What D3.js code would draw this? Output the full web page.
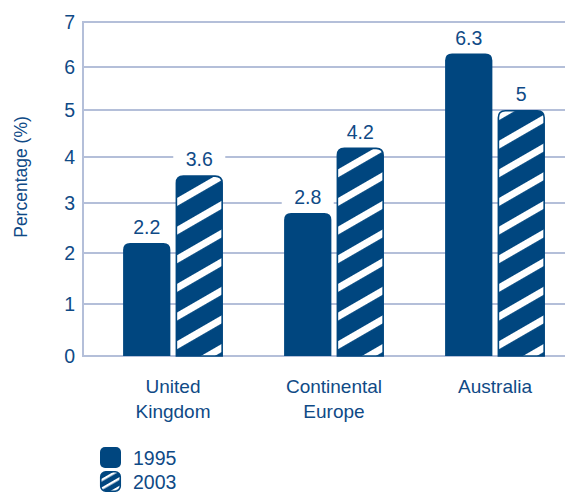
<!DOCTYPE html>
<html>
<head>
<meta charset="utf-8">
<script src="https://cdn.jsdelivr.net/npm/d3@7"></script>
<style>
  html, body { margin: 0; padding: 0; background: #fff; }
  svg { display: block; }
  text { font-family: "Liberation Sans", Arial, Helvetica, sans-serif; fill: #0f4a86; }
</style>
</head>
<body>
<svg id="chart" width="565" height="493"></svg>
<script>
// ---- data ----
const categories = [["United", "Kingdom"], ["Continental", "Europe"], ["Australia"]];
const categoryKeys = ["United Kingdom", "Continental Europe", "Australia"];
const seriesNames = ["1995", "2003"];
const values1995 = [2.2, 2.8, 6.3];
const values2003 = [3.6, 4.2, 5];
const valueLabels1995 = ["2.2", "2.8", "6.3"];
const valueLabels2003 = ["3.6", "4.2", "5"];
const yTicks = [0, 1, 2, 3, 4, 5, 6, 7];

// ---- styles ----
const BLUE = "#00467f";
const GRID = "#b4bfd9";
const TEXT = "#0f4a86";

const svg = d3.select("#chart");
const defs = svg.append("defs");

function hatch(id, period, white) {
  const p = defs.append("pattern")
    .attr("id", id)
    .attr("patternUnits", "userSpaceOnUse")
    .attr("width", 10).attr("height", period)
    .attr("patternTransform", "rotate(-30)");
  p.append("rect").attr("width", 10).attr("height", period).attr("fill", BLUE);
  p.append("rect").attr("y", 0).attr("width", 10).attr("height", white).attr("fill", "#fff");
}
hatch("hatch", 24.8, 7);
hatch("hatchSmall", 7.5, 2.4);

// ---- scales ----
const y = d3.scaleLinear()
  .domain(yTicks)
  .range([356, 304, 253, 203, 157, 110, 67, 22]);

const x0 = d3.scaleBand()
  .domain(categoryKeys)
  .range([92.5, 575.5])
  .paddingInner(0.38)
  .paddingOuter(0.19);

const x1 = d3.scaleBand()
  .domain(seriesNames)
  .range([0, x0.bandwidth()])
  .paddingInner(0.1)
  .paddingOuter(0);

const axisX = 83;
const rightX = 565;

// ---- gridlines ----
svg.append("g").selectAll("line")
  .data(yTicks)
  .join("line")
  .attr("x1", axisX).attr("x2", rightX)
  .attr("y1", d => y(d)).attr("y2", d => y(d))
  .attr("stroke", GRID).attr("stroke-width", 2);

svg.append("line")
  .attr("x1", axisX).attr("x2", axisX)
  .attr("y1", y(7) - 1).attr("y2", y(0) + 1)
  .attr("stroke", GRID).attr("stroke-width", 2);

// tick labels
svg.append("g").selectAll("text")
  .data(yTicks)
  .join("text")
  .attr("x", 75)
  .attr("y", d => y(d))
  .attr("dy", "0.36em")
  .attr("text-anchor", "end")
  .style("font-size", "19.5px")
  .text(d => d);

// y title
svg.append("text")
  .attr("transform", "translate(27,177) rotate(-90)")
  .attr("text-anchor", "middle")
  .style("font-size", "17.5px")
  .text("Percentage (%)");

// ---- bars ----
function topRounded(x, yTop, w, h, r) {
  return `M${x},${yTop + h}V${yTop + r}Q${x},${yTop} ${x + r},${yTop}H${x + w - r}Q${x + w},${yTop} ${x + w},${yTop + r}V${yTop + h}Z`;
}

const rows = categoryKeys.map((k, i) => ({
  key: k,
  bars: [
    { s: "1995", v: values1995[i], label: valueLabels1995[i] },
    { s: "2003", v: values2003[i], label: valueLabels2003[i] }
  ]
}));

const groups = svg.append("g").selectAll("g")
  .data(rows)
  .join("g")
  .attr("transform", d => `translate(${x0(d.key)},0)`);

groups.selectAll("path.bar")
  .data(d => d.bars)
  .join("path")
  .attr("class", "bar")
  .attr("d", d => {
    const bx = x1(d.s), w = x1.bandwidth();
    return d.s === "1995"
      ? topRounded(bx, y(d.v), w, y(0) - y(d.v), 7)
      : topRounded(bx + 0.75, y(d.v) + 0.75, w - 1.5, y(0) - y(d.v) - 0.75, 7);
  })
  .attr("fill", d => d.s === "1995" ? BLUE : "url(#hatch)")
  .attr("stroke", d => d.s === "1995" ? "none" : BLUE)
  .attr("stroke-width", 1.6);

// value labels with white backgrounds breaking gridlines
const lbl = groups.selectAll("g.lbl")
  .data(d => d.bars)
  .join("g")
  .attr("class", "lbl")
  .attr("transform", d => `translate(${x1(d.s) + x1.bandwidth() / 2},${y(d.v) - 9})`);

lbl.append("rect")
  .attr("x", d => -(d.label.length * 6 + 8))
  .attr("width", d => 2 * (d.label.length * 6 + 8))
  .attr("y", -17).attr("height", 19)
  .attr("fill", "#fff");

lbl.append("text")
  .attr("text-anchor", "middle")
  .style("font-size", "19.5px")
  .text(d => d.label);

// category labels
svg.append("g").selectAll("text")
  .data(categories)
  .join("text")
  .attr("x", (d, i) => x0(categoryKeys[i]) + x0.bandwidth() / 2)
  .attr("y", 393)
  .attr("text-anchor", "middle")
  .style("font-size", "19px")
  .each(function (d) {
    d3.select(this).selectAll("tspan")
      .data(d)
      .join("tspan")
      .attr("x", d3.select(this).attr("x"))
      .attr("dy", (t, j) => j === 0 ? 0 : 25)
      .text(t => t);
  });

// ---- legend ----
const legend = svg.append("g").attr("transform", "translate(100,447)");
const leg = legend.selectAll("g")
  .data(seriesNames)
  .join("g")
  .attr("transform", (d, i) => `translate(0,${i * 24})`);

leg.append("rect")
  .attr("x", d => d === "1995" ? 0 : 0.75)
  .attr("y", d => d === "1995" ? 0 : 0.75)
  .attr("width", d => d === "1995" ? 21 : 19.5)
  .attr("height", d => d === "1995" ? 21 : 19.5)
  .attr("rx", 5)
  .attr("fill", d => d === "1995" ? BLUE : "url(#hatchSmall)")
  .attr("stroke", d => d === "1995" ? "none" : BLUE)
  .attr("stroke-width", 1.6);

leg.append("text")
  .attr("x", 33)
  .attr("y", 10.5)
  .attr("dy", "0.36em")
  .style("font-size", "19.5px")
  .text(d => d);
</script>
</body>
</html>
